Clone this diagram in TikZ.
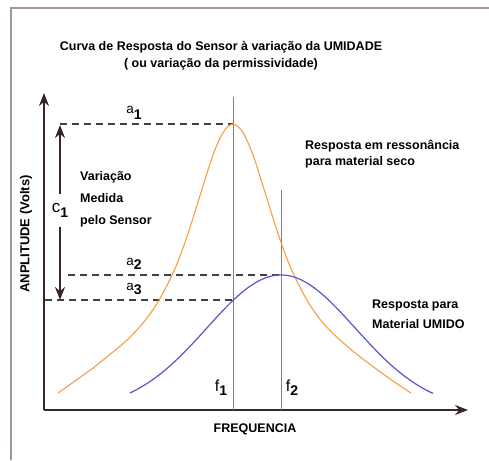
\documentclass[tikz,border=0pt]{standalone}
\usepackage{fontspec}
\setmainfont{Liberation Sans}
\usetikzlibrary{arrows.meta}

\definecolor{drycol}{RGB}{246,158,70}
\definecolor{wetcol}{RGB}{88,86,205}
\definecolor{axiscol}{RGB}{55,38,40}
\definecolor{freqcol}{RGB}{140,120,150}
\definecolor{framecol}{RGB}{165,145,155}

\newcommand\idx[4]{{\fontsize{#1}{#1}\selectfont #2}\raisebox{-#4}{\fontsize{14}{14}\selectfont\bfseries #3}}

\begin{document}
\begin{tikzpicture}[
  >={Stealth[length=13pt,width=10pt]}, x=1pt, y=-1pt,
  every node/.style={font=\bfseries\fontsize{12.5}{16}\selectfont},
  axis line/.style={draw=axiscol, line width=2.8pt},
  level line/.style={draw=black!75, line width=1.2pt, dash pattern=on 7pt off 5pt},
  freq line/.style={draw=freqcol, line width=0.9pt},
  dry curve/.style={draw=drycol, line width=1.1pt},
  wet curve/.style={draw=wetcol, line width=1.2pt},
  text node/.style={align=left, inner sep=0pt, anchor=north west},
  sub node/.style={font=\normalfont, inner sep=0pt, anchor=base}
]
\useasboundingbox (0,0) rectangle (489,460);
\draw[framecol, line width=1.2pt] (11,460) -- (11,8) -- (489,8);

% eixos
\coordinate (origin) at (44,410);
\coordinate (ytop) at (44,93);
\coordinate (xend) at (468,410);
\draw[axis line,->] (origin) -- (ytop);
\draw[axis line,->] (origin) -- (xend);

% picos e niveis
\coordinate (peak1) at (233,124);
\coordinate (peak2) at (281,275);
\coordinate (cross1) at (233,300);
\coordinate (f1top) at (233,97);
\coordinate (f1bot) at (233,410);
\coordinate (f2top) at (281,190);
\coordinate (f2bot) at (281,410);

\draw[freq line] (f1top) -- (f1bot);
\draw[freq line] (f2top) -- (f2bot);

\draw[level line] (60,124) -- (peak1);
\draw[level line] (68,275) -- (peak2);
\draw[level line] (45,300) -- (cross1);

% curvas
\draw[dry curve] plot[smooth, tension=0.5] coordinates {
  (58,393) (75,381) (93,368) (108,356) (127,340) (143,323) (158,302)
  (173,273) (183,248) (193,218) (203,186) (213,155) (223,132.5) (233,124)
  (243,132.5) (253,155) (263,186) (273,218) (283,248) (293,273) (308,302)
  (323,323) (340,340) (359,356) (375,368) (393,381) (411,393)};
\draw[wet curve] plot[domain=130:433, samples=60, smooth]
  (\x, {410-135*exp(-((\x-281)/105)^2)});

% variacao medida
\draw[axis line, line width=2.4pt, <->] (60,125) -- (60,300)
  node[midway, sub node, fill=white, inner xsep=2pt, inner ysep=9pt] (c1) {\idx{17}{c}{1}{5pt}};

% rotulos
\node[sub node] (a1) at (134,113) {\idx{13.5}{a}{1}{6pt}};
\node[sub node] (a2) at (134,265) {\idx{13.5}{a}{2}{4pt}};
\node[sub node] (a3) at (134,290) {\idx{13.5}{a}{3}{4pt}};
\node[sub node] (f1) at (221,391) {\idx{16}{f}{1}{4pt}};
\node[sub node] (f2) at (292,391) {\idx{16}{f}{2}{4pt}};

\node (title) at (221,47) {Curva de Resposta do Sensor à variação da UMIDADE};
\node (subtitle) at (221,64) {( ou variação da permissividade)};
\node[text node] (seco) at (305,140) {Resposta em ressonância\\para material seco};
\node[text node, font=\bfseries\fontsize{12.5}{22}\selectfont] (medida) at (80,171) {Variação\\Medida\\pelo Sensor};
\node[text node, font=\bfseries\fontsize{12.5}{20}\selectfont] (umido) at (372,300) {Resposta para\\Material UMIDO};
\node[rotate=90, font=\bfseries\fontsize{13}{16}\selectfont] (amp) at (26,234) {ANPLITUDE (Volts)};
\node (freq) at (255,429) {FREQUENCIA};
\end{tikzpicture}
\end{document}
